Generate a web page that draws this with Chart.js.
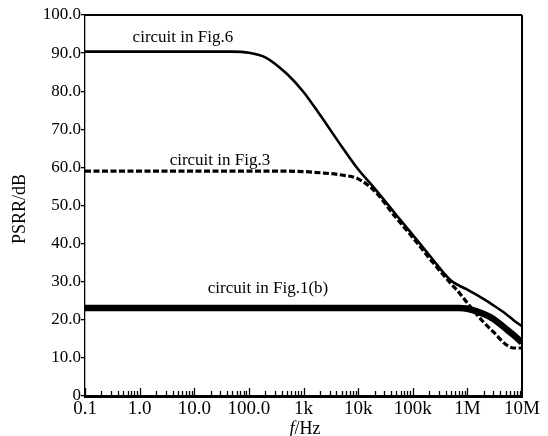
<!DOCTYPE html>
<html><head><meta charset="utf-8">
<script src="https://cdn.jsdelivr.net/npm/chart.js@4/dist/chart.umd.min.js"></script>
<style>html,body{margin:0;padding:0;background:#fff}#wrap{width:548px;height:436px}</style>
</head><body><div id="wrap"><canvas id="c" width="548" height="436"></canvas></div>
<script>
// Frequencies (Hz) shared by all series
const freqs = [0.1, 1, 10, 50, 100, 200, 500, 1e3, 2e3, 5e3, 1e4, 2e4, 5e4, 1e5, 2e5, 5e5, 7e5, 1e6, 2e6, 3e6, 5e6, 7e6, 1e7];
// PSRR (dB) per circuit
const fig6  = [90.4, 90.4, 90.4, 90.4, 90.1, 88.9, 84.5, 79.8, 73.8, 65.5, 59.5, 54.5, 47.5, 42.3, 37.0, 30.3, 29.0, 27.9, 25.4, 23.8, 21.6, 19.9, 18.3];
const fig3  = [59.0, 59.0, 59.0, 59.0, 59.0, 59.0, 59.0, 58.9, 58.6, 58.0, 57.0, 53.8, 46.7, 41.6, 36.2, 29.5, 27.2, 24.4, 19.3, 16.8, 13.6, 12.6, 12.6];
const fig1b = [23.1, 23.1, 23.1, 23.1, 23.1, 23.1, 23.1, 23.1, 23.1, 23.1, 23.1, 23.1, 23.1, 23.1, 23.1, 23.1, 23.1, 22.9, 21.5, 20.2, 17.7, 16.0, 14.0];
// Axis ticks
const xTickValues = [0.1, 1, 10, 100, 1e3, 1e4, 1e5, 1e6, 1e7];
const xTickLabels = ['0.1', '1.0', '10.0', '100.0', '1k', '10k', '100k', '1M', '10M'];
const yTickValues = [0, 10, 20, 30, 40, 50, 60, 70, 80, 90, 100];
// Curve annotations (anchored in data coordinates)
const annoText  = ['circuit in Fig.6', 'circuit in Fig.3', 'circuit in Fig.1(b)'];
const annoFreq  = [6.2, 29.5, 224];
const annoValue = [94.0, 61.7, 28.1];

const SERIF = '"Liberation Serif", "Times New Roman", serif';
const pts = arr => freqs.map((f, i) => ({x: f, y: arr[i]}));

const decor = {
  id: 'decor',
  afterDatasetsDraw(chart) {
    const {ctx, chartArea: a, scales: {x, y}} = chart;
    ctx.save();
    ctx.strokeStyle = '#000';
    // top and right frame
    ctx.lineWidth = 2;
    ctx.beginPath();
    ctx.moveTo(a.left, a.top); ctx.lineTo(a.right, a.top);
    ctx.moveTo(a.right, a.top); ctx.lineTo(a.right, a.bottom);
    ctx.stroke();
    // x-axis inward ticks (major + minor)
    ctx.lineWidth = 1.3;
    ctx.beginPath();
    for (let d = -1; d <= 6; d++) {
      for (let m = 1; m <= 9; m++) {
        const v = m * Math.pow(10, d);
        const px = Math.round(x.getPixelForValue(v)) + 0.5;
        const len = m === 1 ? 8 : 5;
        ctx.moveTo(px, a.bottom); ctx.lineTo(px, a.bottom - len);
      }
    }
    const pe = Math.round(x.getPixelForValue(1e7)) - 0.5;
    ctx.moveTo(pe, a.bottom); ctx.lineTo(pe, a.bottom - 8);
    ctx.stroke();
    // annotations
    ctx.fillStyle = '#000';
    ctx.font = '17px ' + SERIF;
    ctx.textAlign = 'center';
    ctx.textBaseline = 'middle';
    annoText.forEach((t, i) => ctx.fillText(t, x.getPixelForValue(annoFreq[i]), y.getPixelForValue(annoValue[i])));
    // y title
    ctx.save();
    ctx.translate(20, 209);
    ctx.rotate(-Math.PI / 2);
    ctx.font = '18px ' + SERIF;
    ctx.fillText('PSRR/dB', 0, 0);
    ctx.restore();
    // x title: italic f + /Hz
    ctx.font = 'italic 18px ' + SERIF;
    const wf = ctx.measureText('f').width;
    ctx.font = '18px ' + SERIF;
    const wr = ctx.measureText('/Hz').width;
    const cx = 305, cy = 429;
    let sx = cx - (wf + wr) / 2;
    ctx.textAlign = 'left';
    ctx.font = 'italic 18px ' + SERIF;
    ctx.fillText('f', sx, cy);
    ctx.font = '18px ' + SERIF;
    ctx.fillText('/Hz', sx + wf, cy);
    ctx.restore();
  }
};

new Chart(document.getElementById('c'), {
  type: 'line',
  data: {
    datasets: [
      {label: 'circuit in Fig.6', data: pts(fig6), borderColor: '#000', borderWidth: 2.6, pointRadius: 0, cubicInterpolationMode: 'monotone', fill: false},
      {label: 'circuit in Fig.3', data: pts(fig3), borderColor: '#000', borderWidth: 3.2, borderDash: [6, 2.5], pointRadius: 0, cubicInterpolationMode: 'monotone', fill: false},
      {label: 'circuit in Fig.1(b)', data: pts(fig1b), borderColor: '#000', borderWidth: 6.5, pointRadius: 0, cubicInterpolationMode: 'monotone', fill: false}
    ]
  },
  options: {
    responsive: false,
    devicePixelRatio: 1,
    animation: false,
    layout: {padding: {top: 15, right: 26, left: 0, bottom: 0}},
    plugins: {legend: {display: false}, tooltip: {enabled: false}},
    scales: {
      x: {
        type: 'logarithmic', min: 0.1, max: 1e7,
        afterBuildTicks: s => { s.ticks = xTickValues.map(v => ({value: v, major: true})); },
        afterFit: s => { s.height = 40; },
        grid: {display: false, drawTicks: false},
        border: {display: true, color: '#000', width: 3},
        ticks: {
          autoSkip: false, maxRotation: 0, padding: 2, color: '#000',
          font: {family: SERIF, size: 19},
          callback: v => xTickLabels[xTickValues.indexOf(v)]
        }
      },
      y: {
        min: 0, max: 100,
        afterBuildTicks: s => { s.ticks = yTickValues.map(v => ({value: v})); },
        afterFit: s => { s.width = 85; },
        grid: {display: true, drawOnChartArea: false, drawTicks: true, tickLength: 4, color: '#000', lineWidth: 1.3},
        border: {display: true, color: '#000', width: 1.3},
        ticks: {
          padding: 0, color: '#000',
          font: {family: SERIF, size: 17},
          callback: v => v === 0 ? '0' : v.toFixed(1)
        }
      }
    }
  },
  plugins: [decor]
});
</script></body></html>
